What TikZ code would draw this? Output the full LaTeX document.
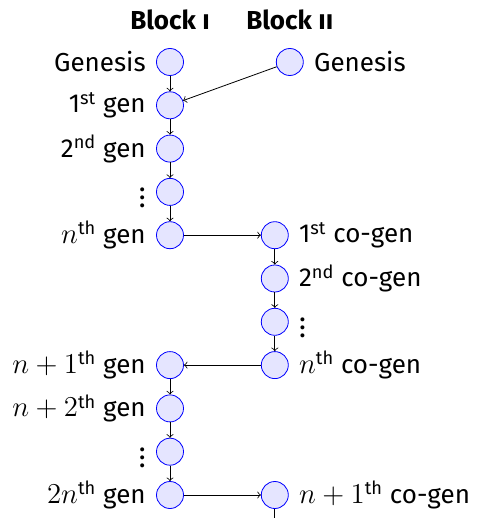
\documentclass[tikz,border=0pt]{standalone}
\usepackage[no-math]{fontspec}
\setmainfont{Fira Sans}
\usepackage{tikz}
\usetikzlibrary{arrows, positioning}
\newcommand{\genfont}{\fontsize{13}{15}\selectfont}
% math is set a little larger than the text around it
\newcommand{\genmath}[1]{{\fontsize{14.3}{16}\selectfont$#1$}}
\tikzstyle{gen} = [circle, draw=blue, fill=blue!10, minimum size=13.5pt, inner sep=0pt]
\tikzstyle{blocktitle} = [font=\genfont\bfseries]
\tikzstyle{arrow} = [->]

\begin{document}
\begin{tikzpicture}[node distance=7.75pt, font=\genfont, label distance=4pt, every label/.style={inner sep=1pt}]
    \useasboundingbox (-85pt,-228pt) rectangle (153pt,31pt);

    % first chain
    \node (gen0) [gen, label=left:Genesis] {};
    \node (gen1) [gen, below=of gen0, label=left:{1\textsuperscript{st} gen}] {};
    \node (gen2) [gen, below=of gen1, label=left:{2\textsuperscript{nd} gen}] {};
    \node (gendots) [gen, below=of gen2, label=left:\genmath{\vdots}] {};
    \node (genn) [gen, below=of gendots, label=left:{\genmath{n}\textsuperscript{th} gen}] {};

    % second chain
    \node (cogen0) [gen, right=46pt of gen0, label=right:Genesis] {};
    \node (cogen1) [gen, right=38.5pt of genn, label=right:{1\textsuperscript{st} co-gen}] {};
    \node (cogen2) [gen, below=of cogen1, label=right:{2\textsuperscript{nd} co-gen}] {};
    \node (codots) [gen, below=of cogen2, label=right:\genmath{\vdots}] {};
    \node (cogenn) [gen, below=of codots, label=right:{\genmath{n}\textsuperscript{th} co-gen}] {};

    % back to the first chain
    \node (genn1) [gen, left=38.5pt of cogenn, label=left:{\genmath{n+1}\textsuperscript{th} gen}] {};
    \node (genn2) [gen, below=of genn1, label=left:{\genmath{n+2}\textsuperscript{th} gen}] {};
    \node (gendotsb) [gen, below=of genn2, label=left:\genmath{\vdots}] {};
    \node (gen2n) [gen, below=of gendotsb, label=left:{\genmath{2n}\textsuperscript{th} gen}] {};
    \node (cogenn1) [gen, right=38.5pt of gen2n, label=right:{\genmath{n+1}\textsuperscript{th} co-gen}] {};
    \coordinate [below=8.25pt of cogenn1] (tail);

    \node (blkI) [blocktitle, above=5.5pt of gen0] {Block \textsc{i}};
    \node (blkII) [blocktitle, above=5.5pt of cogen0] {Block \textsc{ii}};

    \draw [arrow] (gen0) -- (gen1);
    \draw [arrow] (cogen0) -- (gen1);
    \draw [arrow] (gen1) -- (gen2);
    \draw [arrow] (gen2) -- (gendots);
    \draw [arrow] (gendots) -- (genn);
    \draw [arrow] (genn) -- (cogen1);
    \draw [arrow] (cogen1) -- (cogen2);
    \draw [arrow] (cogen2) -- (codots);
    \draw [arrow] (codots) -- (cogenn);
    \draw [arrow] (cogenn) -- (genn1);
    \draw [arrow] (genn1) -- (genn2);
    \draw [arrow] (genn2) -- (gendotsb);
    \draw [arrow] (gendotsb) -- (gen2n);
    \draw [arrow] (gen2n) -- (cogenn1);
    \draw [arrow] (cogenn1) -- (tail);
\end{tikzpicture}
\end{document}
